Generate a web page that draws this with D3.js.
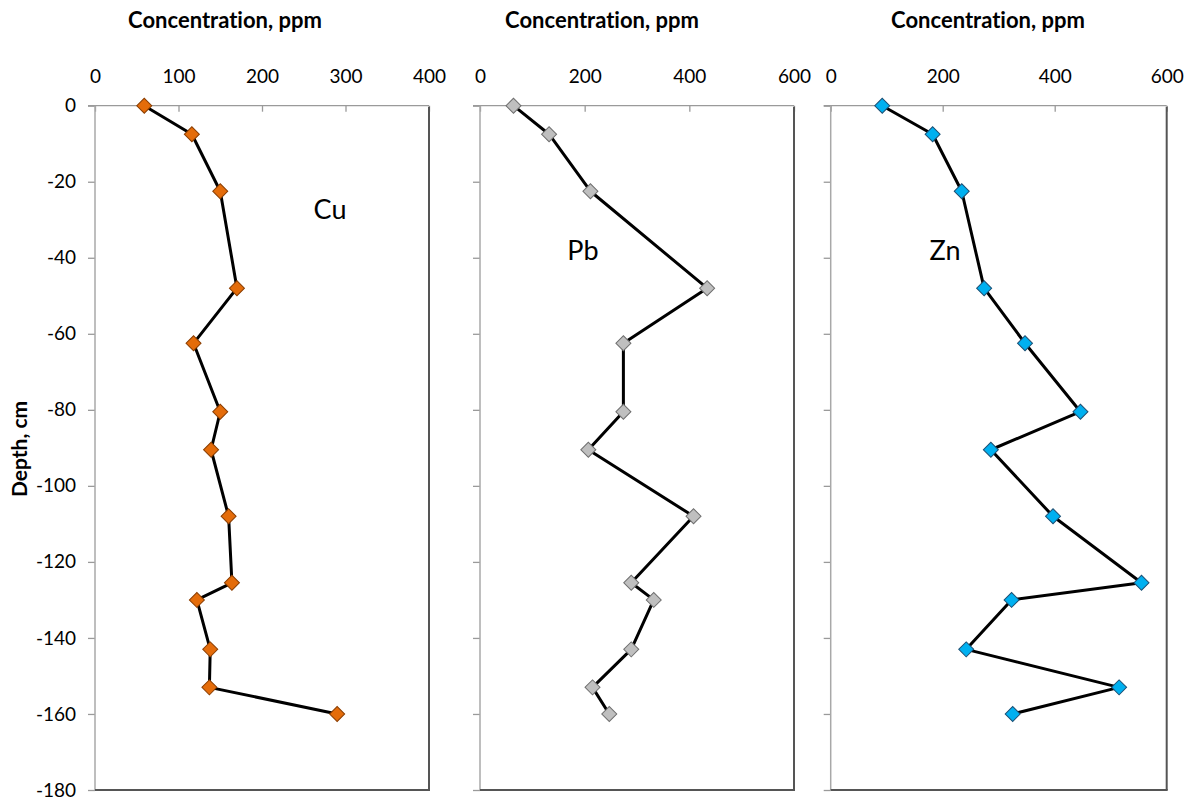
<!DOCTYPE html>
<html>
<head>
<meta charset="utf-8">
<script src="https://cdn.jsdelivr.net/npm/d3@7"></script>
<style>
  html, body { margin: 0; padding: 0; background: #fff; }
  svg { display: block; }
  text { font-family: Lato, "Open Sans", "Liberation Sans", sans-serif; fill: #000; font-variant-ligatures: none; }
</style>
</head>
<body>
<svg id="chart" width="1191" height="808"></svg>
<script>
// ---- data ----
const depths = [0, -7.5, -22.5, -48, -62.5, -80.5, -90.5, -108, -125.5, -130, -143, -153, -160];
const cuValues = [59, 116, 150, 170, 118, 150, 139, 160, 164, 122, 138, 137, 290];
const pbValues = [64, 132, 211, 434, 274, 274, 207, 408, 289, 332, 289, 215, 247];
const znValues = [92, 182, 234, 274, 347, 446, 286, 397, 555, 323, 242, 515, 325];
const cuTicks = [0, 100, 200, 300, 400];
const pbTicks = [0, 200, 400, 600];
const znTicks = [0, 200, 400, 600];
const depthTicks = [0, -20, -40, -60, -80, -100, -120, -140, -160, -180];
const elementLabels = ["Cu", "Pb", "Zn"];
const xAxisTitle = "Concentration, ppm";
const yAxisTitle = "Depth, cm";

// ---- layout ----
const svg = d3.select("#chart");
const top0 = 105.7, bottom0 = 790;
const y = d3.scaleLinear().domain([0, -180]).range([top0, bottom0]);
const fmt = d => String(d);

const panels = [
  { name: elementLabels[0], values: cuValues, ticks: cuTicks, max: 400, x0: 95, x1: 429,
    fill: "#E46C0A", stroke: "#8a3d00", titleX: 225, label: [330, 219], yLabels: true },
  { name: elementLabels[1], values: pbValues, ticks: pbTicks, max: 600, x0: 480, x1: 794,
    fill: "#BFBFBF", stroke: "#6f6f6f", titleX: 602, label: [583, 260], yLabels: false },
  { name: elementLabels[2], values: znValues, ticks: znTicks, max: 600, x0: 830.7, x1: 1166.7,
    fill: "#00B0F0", stroke: "#1d4f73", titleX: 988, label: [945, 260], yLabels: false }
];

panels.forEach(p => {
  const x = d3.scaleLinear().domain([0, p.max]).range([p.x0, p.x1]);
  const g = svg.append("g");

  g.append("rect").attr("x", p.x0).attr("y", top0)
    .attr("width", p.x1 - p.x0).attr("height", bottom0 - top0).attr("fill", "#fff");

  // top axis (ticks pointing inward)
  const xa = g.append("g").attr("transform", `translate(0,${top0})`)
    .call(d3.axisTop(x).tickValues(p.ticks).tickSize(-6).tickPadding(23).tickFormat(fmt));
  xa.select(".domain").remove();
  xa.selectAll(".tick line").attr("stroke", "#9a9a9a").attr("stroke-width", 1.3);
  xa.selectAll(".tick text").attr("font-size", 19).attr("fill", "#1a1a1a")
    .style("font-family", "Lato, 'Open Sans', sans-serif");

  // left axis
  const ya = g.append("g").attr("transform", `translate(${p.x0},0)`)
    .call(d3.axisLeft(y).tickValues(depthTicks).tickSize(7).tickPadding(12)
      .tickFormat(p.yLabels ? fmt : () => ""));
  ya.select(".domain").remove();
  ya.selectAll(".tick line").attr("stroke", "#9a9a9a").attr("stroke-width", 1.3);
  ya.selectAll(".tick text").attr("font-size", 19).attr("fill", "#1a1a1a")
    .style("font-family", "Lato, 'Open Sans', sans-serif");

  // frame lines
  g.append("line").attr("x1", p.x0 - 7).attr("x2", p.x1).attr("y1", top0).attr("y2", top0)
    .attr("stroke", "#9a9a9a").attr("stroke-width", 1.3);
  g.append("line").attr("x1", p.x0).attr("x2", p.x0).attr("y1", top0).attr("y2", bottom0)
    .attr("stroke", "#a8a8a8").attr("stroke-width", 1.5);
  g.append("line").attr("x1", p.x1).attr("x2", p.x1).attr("y1", top0 + 1).attr("y2", bottom0)
    .attr("stroke", "#555").attr("stroke-width", 2);
  g.append("line").attr("x1", p.x0).attr("x2", p.x1 + 1).attr("y1", bottom0).attr("y2", bottom0)
    .attr("stroke", "#555").attr("stroke-width", 2);

  // title
  g.append("text").attr("x", p.titleX).attr("y", 28).attr("text-anchor", "middle")
    .attr("font-size", 22).attr("font-weight", "bold").text(xAxisTitle);

  // series line
  const pts = p.values.map((v, i) => [v, depths[i]]);
  g.append("path").datum(pts)
    .attr("fill", "none").attr("stroke", "#000").attr("stroke-width", 3)
    .attr("stroke-linejoin", "round")
    .attr("d", d3.line().x(d => x(d[0])).y(d => y(d[1])));

  // markers (diamonds)
  g.selectAll("rect.m").data(pts).join("rect").attr("class", "m")
    .attr("x", -5.3).attr("y", -5.3).attr("width", 10.6).attr("height", 10.6)
    .attr("transform", d => `translate(${x(d[0])},${y(d[1])}) rotate(45)`)
    .attr("fill", p.fill).attr("stroke", p.stroke).attr("stroke-width", 1);

  // element label
  g.append("text").attr("x", p.label[0]).attr("y", p.label[1]).attr("text-anchor", "middle")
    .attr("font-size", 27).text(p.name);
});

// y axis title
svg.append("text").attr("transform", "translate(27,449) rotate(-90)")
  .attr("text-anchor", "middle").attr("font-size", 21).attr("font-weight", "bold")
  .text(yAxisTitle);
</script>
</body>
</html>
